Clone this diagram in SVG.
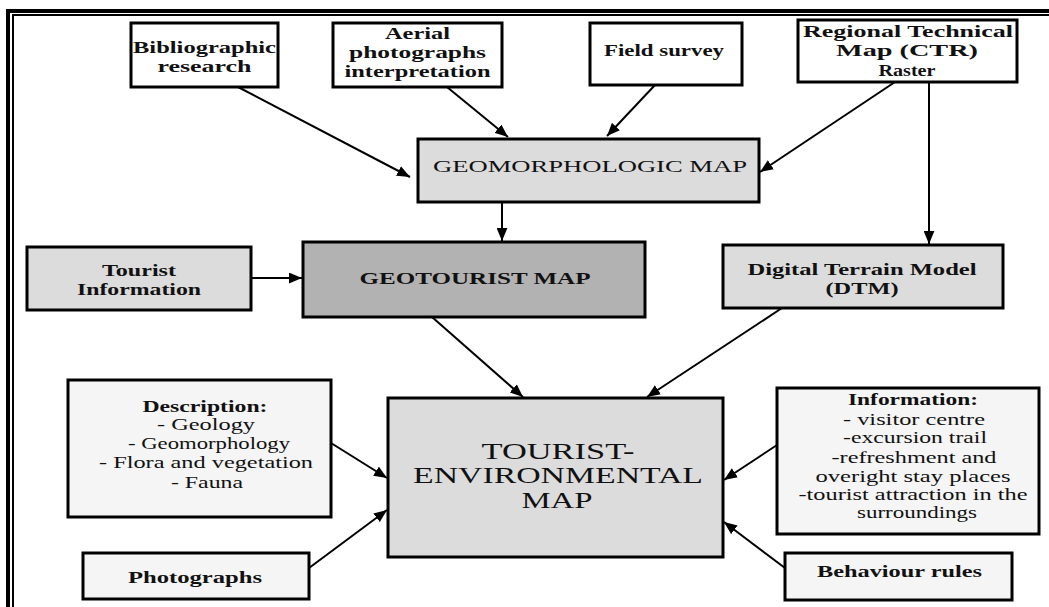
<svg xmlns="http://www.w3.org/2000/svg" width="1049" height="607" viewBox="0 0 1049 607">
<style>
.box{stroke:#000;stroke-width:3}
.w{fill:#fff}.g{fill:#dcdcdc}.d{fill:#b2b2b2}.l{fill:#f5f5f5}
text{fill:#111;text-anchor:middle}
.b{font-weight:bold;font-size:17px}
.r{font-size:17px}
.big{font-size:23px}
.c line{stroke:#000;stroke-width:2;marker-end:url(#ah)}
</style>
<defs>
<marker id="ah" viewBox="0 0 12 10" refX="12" refY="5" markerWidth="13" markerHeight="11" orient="auto" markerUnits="userSpaceOnUse">
<path d="M0,0 L12,5 L0,10 z" fill="#000"/>
</marker>
</defs>
<rect width="1049" height="607" fill="#fff"/>
<g id="frame" fill="none" stroke="#000">
<path d="M8,607 V11 H1049" stroke-width="4"/>
<path d="M13,607 V15 H1049" stroke-width="2"/>
</g>
<g class="c" id="connectors">
<line x1="238" y1="87" x2="410" y2="177"/>
<line x1="447" y1="87" x2="508" y2="137"/>
<line x1="655" y1="85" x2="607" y2="136"/>
<line x1="895" y1="82" x2="760" y2="172"/>
<line x1="929" y1="82" x2="929" y2="244"/>
<line x1="502" y1="203" x2="502" y2="241"/>
<line x1="251" y1="278" x2="302" y2="278"/>
<line x1="432" y1="317" x2="523" y2="397"/>
<line x1="782" y1="308" x2="647" y2="397"/>
<line x1="331" y1="443" x2="387" y2="478"/>
<line x1="309" y1="568" x2="387" y2="510"/>
<line x1="777" y1="445" x2="724" y2="480"/>
<line x1="785" y1="568" x2="724" y2="522"/>
</g>
<g font-family="Liberation Serif, Times New Roman, serif">
<g id="bibliographic">
<rect class="box w" x="131" y="23" width="147" height="64"/>
<text class="b" x="204.5" y="53" textLength="143" lengthAdjust="spacingAndGlyphs">Bibliographic</text>
<text class="b" x="204.5" y="72" textLength="94" lengthAdjust="spacingAndGlyphs">research</text>
</g>
<g id="aerial">
<rect class="box w" x="333" y="23" width="169" height="64"/>
<text class="b" x="417.5" y="39" textLength="65" lengthAdjust="spacingAndGlyphs">Aerial</text>
<text class="b" x="417.5" y="58" textLength="137" lengthAdjust="spacingAndGlyphs">photographs</text>
<text class="b" x="417.5" y="77" textLength="146" lengthAdjust="spacingAndGlyphs">interpretation</text>
</g>
<g id="field">
<rect class="box w" x="590" y="23" width="152" height="62"/>
<text class="b" x="664" y="56" textLength="120" lengthAdjust="spacingAndGlyphs">Field survey</text>
</g>
<g id="ctr">
<rect class="box w" x="798" y="20" width="219" height="62"/>
<text class="b" x="908" y="37" textLength="210" lengthAdjust="spacingAndGlyphs">Regional Technical</text>
<text class="b" x="907" y="56" textLength="142" lengthAdjust="spacingAndGlyphs">Map (CTR)</text>
<text class="b" x="907" y="76" textLength="57" lengthAdjust="spacingAndGlyphs">Raster</text>
</g>
<g id="geomorph">
<rect class="box g" x="418" y="139" width="341" height="63"/>
<text class="r" x="590" y="172" textLength="314" lengthAdjust="spacingAndGlyphs">GEOMORPHOLOGIC MAP</text>
</g>
<g id="touristinfo">
<rect class="box g" x="27" y="247" width="224" height="63"/>
<text class="b" x="139" y="276" textLength="74" lengthAdjust="spacingAndGlyphs">Tourist</text>
<text class="b" x="139" y="295" textLength="124" lengthAdjust="spacingAndGlyphs">Information</text>
</g>
<g id="geotourist">
<rect class="box d" x="303" y="242" width="342" height="75"/>
<text class="r" x="475" y="284" textLength="231" lengthAdjust="spacingAndGlyphs" font-weight="bold">GEOTOURIST MAP</text>
</g>
<g id="dtm">
<rect class="box g" x="723" y="245" width="280" height="63"/>
<text class="b" x="862" y="275" textLength="229" lengthAdjust="spacingAndGlyphs">Digital Terrain Model</text>
<text class="b" x="862" y="294" textLength="73" lengthAdjust="spacingAndGlyphs">(DTM)</text>
</g>
<g id="description">
<rect class="box l" x="68" y="380" width="263" height="137"/>
<text class="b" x="205" y="412" textLength="125" lengthAdjust="spacingAndGlyphs">Description:</text>
<text class="r" x="206" y="430" textLength="98" lengthAdjust="spacingAndGlyphs">- Geology</text>
<text class="r" x="209" y="449" textLength="162" lengthAdjust="spacingAndGlyphs">- Geomorphology</text>
<text class="r" x="206" y="468" textLength="214" lengthAdjust="spacingAndGlyphs">- Flora and vegetation</text>
<text class="r" x="207" y="488" textLength="72" lengthAdjust="spacingAndGlyphs">- Fauna</text>
</g>
<g id="tem">
<rect class="box g" x="388" y="398" width="335" height="159"/>
<text class="big" x="558" y="459" textLength="153" lengthAdjust="spacingAndGlyphs">TOURIST-</text>
<text class="big" x="558" y="483" textLength="290" lengthAdjust="spacingAndGlyphs">ENVIRONMENTAL</text>
<text class="big" x="557" y="508" textLength="71" lengthAdjust="spacingAndGlyphs">MAP</text>
</g>
<g id="information">
<rect class="box l" x="777" y="388" width="262" height="146"/>
<text class="b" x="913" y="405" textLength="130" lengthAdjust="spacingAndGlyphs">Information:</text>
<text class="r" x="914" y="425" textLength="142" lengthAdjust="spacingAndGlyphs">- visitor centre</text>
<text class="r" x="915" y="443" textLength="144" lengthAdjust="spacingAndGlyphs">-excursion trail</text>
<text class="r" x="914" y="463" textLength="165" lengthAdjust="spacingAndGlyphs">-refreshment and</text>
<text class="r" x="913" y="482" textLength="195" lengthAdjust="spacingAndGlyphs">overight stay places</text>
<text class="r" x="913" y="500" textLength="229" lengthAdjust="spacingAndGlyphs">-tourist attraction in the</text>
<text class="r" x="917" y="518" textLength="120" lengthAdjust="spacingAndGlyphs">surroundings</text>
</g>
<g id="photographs">
<rect class="box l" x="83" y="553" width="226" height="46"/>
<text class="b" x="195" y="583" textLength="134" lengthAdjust="spacingAndGlyphs">Photographs</text>
</g>
<g id="behaviour">
<rect class="box l" x="785" y="553" width="227" height="47"/>
<text class="b" x="899.5" y="577" textLength="165" lengthAdjust="spacingAndGlyphs">Behaviour rules</text>
</g>
</g>
</svg>
